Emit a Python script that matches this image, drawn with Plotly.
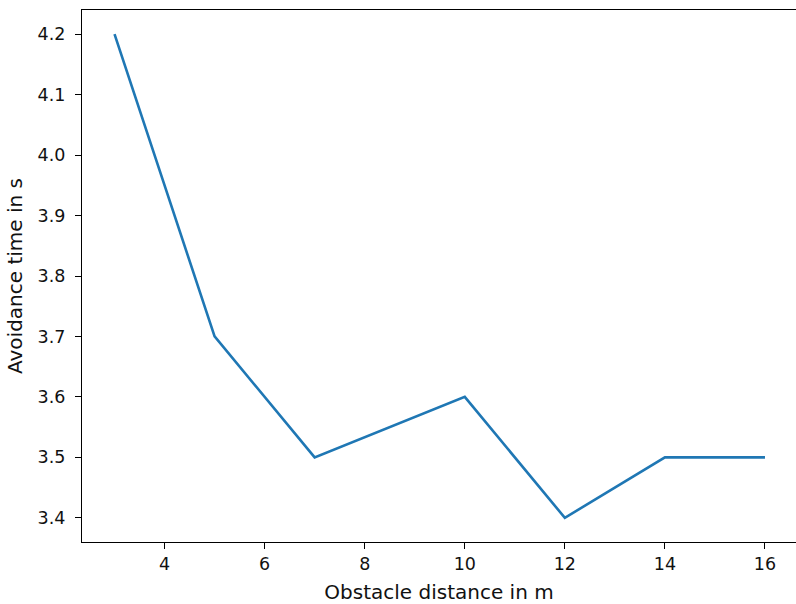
import plotly.graph_objects as go

distance_m = [3, 5, 7, 10, 12, 14, 16]
avoidance_s = [4.2, 3.7, 3.5, 3.6, 3.4, 3.5, 3.5]
x_ticks = [4, 6, 8, 10, 12, 14, 16]
y_ticks = [3.4, 3.5, 3.6, 3.7, 3.8, 3.9, 4.0, 4.1, 4.2]

fig = go.Figure()
fig.add_trace(go.Scatter(x=distance_m, y=avoidance_s, mode="lines",
                         line=dict(color="#1f77b4", width=2.6)))

font = dict(family="DejaVu Sans", size=17.5, color="#111")
tfont = dict(family="DejaVu Sans", size=20, color="#111")
fig.update_layout(
    width=796, height=604,
    margin=dict(l=82, r=0, t=10, b=62),
    paper_bgcolor="white", plot_bgcolor="white",
    showlegend=False,
    font=font,
    xaxis=dict(range=[2.35, 16.62], tickvals=x_ticks, ticktext=[str(v) for v in x_ticks],
               showgrid=False, zeroline=False, showline=True, linecolor="black", linewidth=1.3,
               mirror=True, ticks="outside", ticklen=6, tickwidth=1.3, tickcolor="black",
               title=dict(text="Obstacle distance in m", standoff=11, font=tfont),
               tickfont=font),
    yaxis=dict(range=[3.36, 4.24], tickvals=y_ticks, ticktext=[f"{v:.1f}" for v in y_ticks],
               showgrid=False, zeroline=False, showline=True, linecolor="black", linewidth=1.3,
               ticks="outside", ticklen=6, tickwidth=1.3, tickcolor="black",
               ticklabelstandoff=6,
               title=dict(text="Avoidance time in s", standoff=9, font=tfont),
               tickfont=font),
)
fig.write_html("out.html", config={"displayModeBar": False},
               post_script="document.body.style.margin='0';document.body.style.overflow='hidden';")
